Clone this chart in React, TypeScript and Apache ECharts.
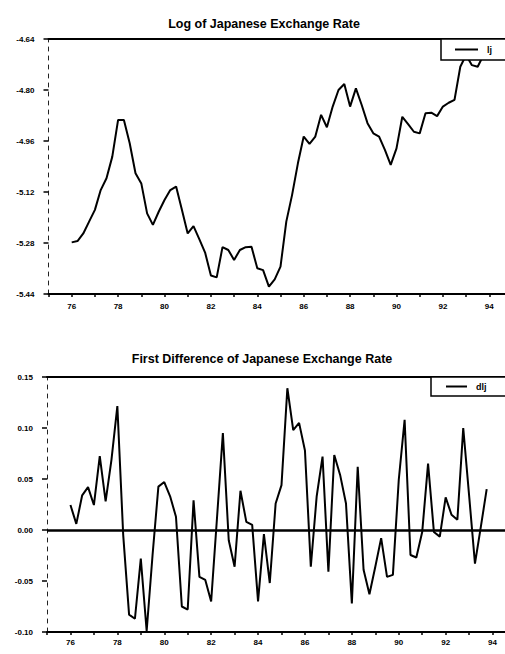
import React, { useEffect, useRef } from "react";
import * as echarts from "echarts";

// Quarterly observations, 1976Q1 .. 1993Q4
const START_YEAR = 76;
const PERIODS_PER_YEAR = 4;

const LOG_TITLE = "Log of Japanese Exchange Rate";
const DIFF_TITLE = "First Difference of Japanese Exchange Rate";
const LOG_NAME = "lj";
const DIFF_NAME = "dlj";

const logRate = [
  -5.278, -5.274, -5.25, -5.213, -5.176, -5.114, -5.077, -5.009, -4.894, -4.894,
  -4.967, -5.061, -5.093, -5.187, -5.223, -5.182, -5.145, -5.114, -5.103, -5.176,
  -5.25, -5.227, -5.268, -5.31, -5.382, -5.388, -5.293, -5.302, -5.333, -5.302,
  -5.293, -5.292, -5.359, -5.365, -5.417, -5.394, -5.354, -5.213, -5.129, -5.03,
  -4.946, -4.969, -4.946, -4.878, -4.917, -4.852, -4.8, -4.781, -4.852, -4.795,
  -4.847, -4.904, -4.936, -4.946, -4.988, -5.035, -4.983, -4.884, -4.907, -4.931,
  -4.936, -4.873, -4.871, -4.882, -4.852, -4.84, -4.831, -4.727, -4.69, -4.722,
  -4.727, -4.69,
];

const diffRate = [
  0.0245, 0.006, 0.034, 0.042, 0.0245, 0.0725, 0.028, 0.069, 0.1215, -0.005,
  -0.083, -0.087, -0.028, -0.099, -0.025, 0.0425, 0.047, 0.033, 0.013, -0.075,
  -0.078, 0.029, -0.046, -0.049, -0.07, 0.012, 0.095, -0.01, -0.036, 0.0385,
  0.008, 0.005, -0.07, -0.004, -0.052, 0.026, 0.044, 0.139, 0.098, 0.105,
  0.078, -0.036, 0.033, 0.072, -0.041, 0.0735, 0.054, 0.026, -0.072, 0.062,
  -0.039, -0.063, -0.036, -0.008, -0.046, -0.044, 0.049, 0.108, -0.0245, -0.027,
  -0.002, 0.065, -0.002, -0.0065, 0.032, 0.015, 0.01, 0.1, 0.034, -0.033,
  0.003, 0.04,
];

const X_MIN = 75;
const X_MAX = 95;
const LOG_Y = { min: -5.44, max: -4.64, interval: 0.16 };
const DIFF_Y = { min: -0.1, max: 0.15, interval: 0.05 };

const FONT = "'Liberation Sans', Arial, sans-serif";

const timeOf = (i: number) => START_YEAR + i / PERIODS_PER_YEAR;

export default function App() {
  const ref = useRef<HTMLDivElement>(null);

  useEffect(() => {
    if (!ref.current) return;
    const chart = echarts.init(ref.current, null, { renderer: "svg" });

    const logData = logRate.map((v, i) => [timeOf(i), v]);
    const diffData = diffRate.map((v, i) => [timeOf(i), v]);

    const bottomX = (gridIndex: number, margin: number) => ({
      type: "value",
      gridIndex,
      min: X_MIN,
      max: X_MAX,
      interval: 1,
      position: "bottom",
      axisLine: { show: true, onZero: false, lineStyle: { color: "#000", width: 2 } },
      axisTick: { show: true, inside: false, length: 3, lineStyle: { color: "#000", width: 1.5 } },
      axisLabel: {
        show: true,
        margin,
        color: "#000",
        fontFamily: FONT,
        fontWeight: "bold",
        fontSize: 8,
        showMinLabel: true,
        showMaxLabel: true,
        formatter: (v: number) => (Math.round(v) % 2 === 0 ? String(Math.round(v)) : ""),
      },
      splitLine: { show: false },
    });

    const topX = (gridIndex: number) => ({
      type: "value",
      gridIndex,
      min: X_MIN,
      max: X_MAX,
      interval: 1,
      position: "top",
      axisLine: { show: true, onZero: false, lineStyle: { color: "#000", width: 2 } },
      axisTick: { show: false },
      axisLabel: { show: false },
      splitLine: { show: false },
    });

    const yAxis = (gridIndex: number, r: { min: number; max: number; interval: number }) => ({
      type: "value",
      gridIndex,
      min: r.min,
      max: r.max,
      interval: r.interval,
      axisLine: { show: true, onZero: false, lineStyle: { color: "#222", width: 1, type: [4, 5] } },
      axisTick: { show: true, inside: false, length: 5, lineStyle: { color: "#000", width: 1.5 } },
      axisLabel: {
        margin: 14,
        color: "#000",
        fontFamily: FONT,
        fontWeight: "bold",
        fontSize: 8,
        formatter: (v: number) => v.toFixed(2),
      },
      splitLine: { show: false },
    });

    const legendBase = {
      orient: "horizontal",
      icon: "rect",
      itemHeight: 2,
      itemGap: 8,
      backgroundColor: "#fff",
      borderColor: "#000",
      borderWidth: 1.5,
      borderRadius: 0,
      textStyle: { color: "#000", fontFamily: FONT, fontWeight: "bold", fontSize: 9, padding: [0, 0, 0, 4] },
    };

    chart.setOption({
      animation: false,
      backgroundColor: "#fff",
      title: [
        {
          text: LOG_TITLE,
          left: 259,
          top: 12,
          textAlign: "center",
          textStyle: { fontFamily: FONT, fontWeight: "bold", fontSize: 12.5, color: "#000" },
        },
        {
          text: DIFF_TITLE,
          left: 257,
          top: 347,
          textAlign: "center",
          textStyle: { fontFamily: FONT, fontWeight: "bold", fontSize: 12.5, color: "#000" },
        },
      ],
      legend: [
        {
          ...legendBase,
          data: [LOG_NAME],
          left: 441,
          top: 39,
          itemWidth: 23,
          padding: [6, 60, 6, 14],
        },
        {
          ...legendBase,
          data: [DIFF_NAME],
          left: 431,
          top: 377,
          itemWidth: 21,
          padding: [5, 60, 5, 15],
        },
      ],
      grid: [
        { left: 48.5, right: -7.5, top: 39, height: 255, containLabel: false, outerBoundsMode: "none" },
        { left: 47, right: -11, top: 377, height: 255, containLabel: false, outerBoundsMode: "none" },
      ],
      xAxis: [bottomX(0, 8), topX(0), bottomX(1, 6), topX(1)],
      yAxis: [yAxis(0, LOG_Y), yAxis(1, DIFF_Y)],
      series: [
        {
          name: LOG_NAME,
          type: "line",
          xAxisIndex: 0,
          yAxisIndex: 0,
          data: logData,
          symbol: "none",
          lineStyle: { color: "#000", width: 2 },
          itemStyle: { color: "#000" },
          z: 2,
        },
        {
          name: DIFF_NAME,
          type: "line",
          xAxisIndex: 2,
          yAxisIndex: 1,
          data: diffData,
          symbol: "none",
          lineStyle: { color: "#000", width: 2 },
          itemStyle: { color: "#000" },
          z: 2,
          markLine: {
            silent: true,
            symbol: ["none", "none"],
            label: { show: false },
            lineStyle: { color: "#000", width: 2.5, type: "solid" },
            data: [{ yAxis: 0 }],
          },
        },
      ],
    });

    return () => chart.dispose();
  }, []);

  return (
    <div
      ref={ref}
      style={{ position: "absolute", left: 0, top: 0, width: 505, height: 654, background: "#fff" }}
    />
  );
}
